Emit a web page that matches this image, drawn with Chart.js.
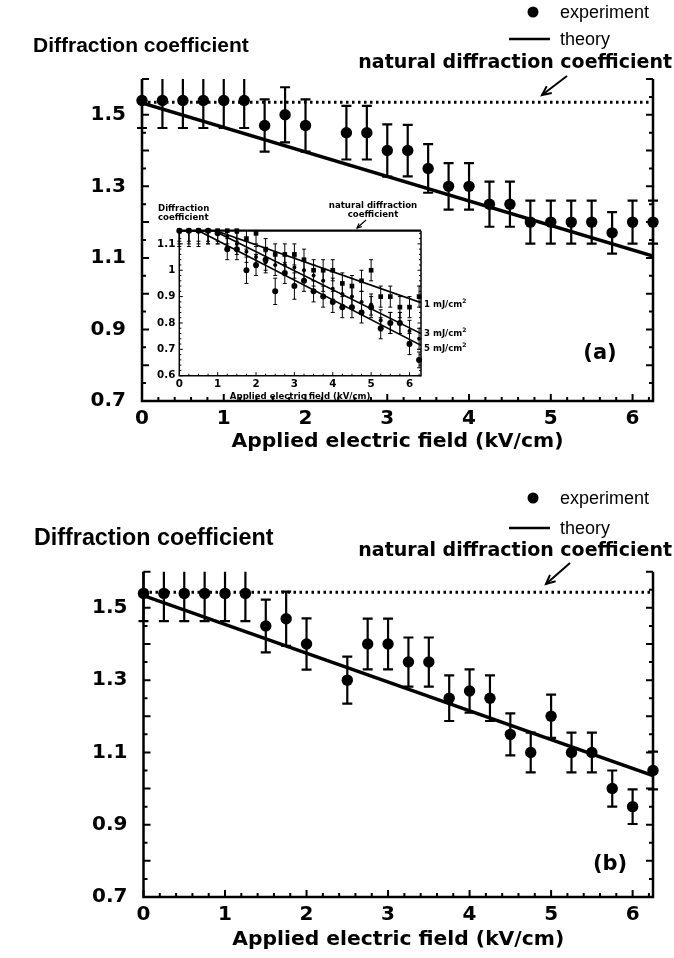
<!DOCTYPE html>
<html>
<head>
<meta charset="utf-8">
<script src="https://cdn.jsdelivr.net/npm/chart.js@4.4.1/dist/chart.umd.min.js"></script>
<style>
  body { margin:0; width:674px; height:958px; background:#fff; position:relative; overflow:hidden;
         font-family:"Liberation Sans", Arial, sans-serif; color:#000; }
  canvas, svg, .t { position:absolute; }
  .t { white-space:nowrap; line-height:1; transform:translateY(-50%); }
  .bd { font-family:"DejaVu Sans", sans-serif; font-weight:bold; }
  .leg { font-size:18px; }
  .ttl { font-weight:bold; }
  .nat { font-size:19px; }
  .tag { font-size:21px; transform:translate(-50%,-50%); }
  .sm  { font-size:8.6px; }
  .smc { font-size:8.6px; transform:translate(-50%,-50%); }
  sup { font-size:6px; vertical-align:4px; line-height:0; }
</style>
</head>
<body>
<canvas id="chartA" width="674" height="479" style="left:0;top:0"></canvas>
<canvas id="inset" width="360" height="210" style="left:130px;top:200px"></canvas>
<canvas id="chartB" width="674" height="479" style="left:0;top:479px"></canvas>

<!-- legend marks and arrows -->
<svg width="674" height="958" style="left:0;top:0">
  <g fill="#000" stroke="#000">
    <circle cx="533" cy="12" r="5.5" stroke="none"/>
    <line x1="509" y1="39" x2="550" y2="39" stroke-width="2.5"/>
    <circle cx="533" cy="498" r="5.5" stroke="none"/>
    <line x1="509" y1="528" x2="550" y2="528" stroke-width="2.5"/>
  </g>
  <g fill="none" stroke="#000" stroke-width="2">
    <line x1="567" y1="76" x2="542" y2="95"/>
    <polyline points="551.8,92.9 542,95 546.7,86.2"/>
    <line x1="570" y1="563" x2="546" y2="584"/>
    <polyline points="555.6,581.2 546,584 550,574.8"/>
    <line x1="366" y1="220" x2="357" y2="228" stroke-width="1.2"/>
    <polyline points="361.8,226.6 357,228 359,223.4" stroke-width="1.2"/>
  </g>
</svg>

<!-- panel (a) text -->
<div class="t leg" style="left:560px;top:12px">experiment</div>
<div class="t leg" style="left:560px;top:39px">theory</div>
<div class="t ttl" style="left:33px;top:44px;font-size:21px">Diffraction coefficient</div>
<div class="t bd nat" style="right:2px;top:61px">natural diffraction coefficient</div>
<div class="t bd tag" style="left:600px;top:352px">(a)</div>

<!-- inset text -->
<div class="t bd sm" style="left:158px;top:208px">Diffraction</div>
<div class="t bd sm" style="left:158px;top:217px">coefficient</div>
<div class="t bd smc" style="left:373px;top:205px">natural diffraction</div>
<div class="t bd smc" style="left:373px;top:214px">coefficient</div>
<div class="t bd sm" style="left:424px;top:304px">1 mJ/cm<sup>2</sup></div>
<div class="t bd sm" style="left:424px;top:333px">3 mJ/cm<sup>2</sup></div>
<div class="t bd sm" style="left:424px;top:348px">5 mJ/cm<sup>2</sup></div>

<!-- panel (b) text -->
<div class="t leg" style="left:560px;top:498px">experiment</div>
<div class="t leg" style="left:560px;top:528px">theory</div>
<div class="t ttl" style="left:34px;top:538px;font-size:23.3px">Diffraction coefficient</div>
<div class="t bd nat" style="right:2px;top:549px">natural diffraction coefficient</div>
<div class="t bd tag" style="left:610px;top:863px">(b)</div>

<script>
Chart.defaults.font.family = '"DejaVu Sans", sans-serif';
Chart.defaults.color = '#000';

// ---------- panel (a) ----------
const fieldA = [0, 0.25, 0.5, 0.75, 1, 1.25, 1.5, 1.75, 2, 2.5, 2.75, 3, 3.25, 3.5, 3.75, 4, 4.25, 4.5, 4.75, 5, 5.25, 5.5, 5.75, 6, 6.25];
const expA   = [1.54, 1.54, 1.54, 1.54, 1.54, 1.54, 1.47, 1.50, 1.47, 1.45, 1.45, 1.40, 1.40, 1.35, 1.30, 1.30, 1.25, 1.25, 1.20, 1.20, 1.20, 1.20, 1.17, 1.20, 1.20];
const errA   = [0.077, 0.077, 0.077, 0.077, 0.077, 0.077, 0.073, 0.077, 0.073, 0.075, 0.075, 0.073, 0.072, 0.068, 0.065, 0.065, 0.063, 0.063, 0.06, 0.06, 0.06, 0.06, 0.058, 0.06, 0.06];
const theoryFieldA = [0, 6.25];
const theoryA      = [1.533, 1.105];
const naturalField = [0, 6.25];
const naturalA     = [1.535, 1.535];

// ---------- panel (b) ----------
const fieldB = [0, 0.25, 0.5, 0.75, 1, 1.25, 1.5, 1.75, 2, 2.5, 2.75, 3, 3.25, 3.5, 3.75, 4, 4.25, 4.5, 4.75, 5, 5.25, 5.5, 5.75, 6, 6.25];
const expB   = [1.54, 1.54, 1.54, 1.54, 1.54, 1.54, 1.45, 1.47, 1.40, 1.30, 1.40, 1.40, 1.35, 1.35, 1.25, 1.27, 1.25, 1.15, 1.10, 1.20, 1.10, 1.10, 1.00, 0.95, 1.05];
const errB   = [0.077, 0.077, 0.077, 0.077, 0.077, 0.077, 0.073, 0.075, 0.071, 0.065, 0.07, 0.07, 0.068, 0.068, 0.063, 0.06, 0.063, 0.058, 0.055, 0.06, 0.055, 0.055, 0.05, 0.048, 0.052];
const theoryFieldB = [0, 6.25];
const theoryB      = [1.534, 1.036];
const naturalB     = [1.543, 1.543];

// ---------- inset of (a): three fluences ----------
const fieldIn = [0, 0.25, 0.5, 0.75, 1, 1.25, 1.5, 1.75, 2, 2.25, 2.5, 2.75, 3, 3.25, 3.5, 3.75, 4, 4.25, 4.5, 4.75, 5, 5.25, 5.5, 5.75, 6, 6.25];
const flu1 = [1.15, 1.15, 1.15, 1.15, 1.15, 1.15, 1.15, 1.12, 1.14, 1.08, 1.06, 1.06, 1.06, 1.04, 1.00, 1.00, 1.00, 0.95, 0.94, 0.96, 1.00, 0.90, 0.90, 0.86, 0.86, 0.90];
const err1 = [0.06, 0.06, 0.06, 0.05, 0.05, 0.05, 0.04, 0.04, 0.04, 0.04, 0.04, 0.04, 0.04, 0.04, 0.04, 0.04, 0.04, 0.04, 0.04, 0.04, 0.04, 0.04, 0.04, 0.04, 0.04, 0.04];
const flu3 = [1.15, 1.15, 1.15, 1.15, 1.15, 1.13, 1.10, 1.07, 1.05, 1.03, 1.02, 1.02, 1.01, 1.00, 0.98, 0.96, 0.93, 0.91, 0.90, 0.88, 0.87, 0.81, 0.80, 0.80, 0.77, 0.74];
const err3 = [0.05, 0.05, 0.05, 0.05, 0.04, 0.04, 0.04, 0.04, 0.04, 0.04, 0.04, 0.04, 0.04, 0.04, 0.04, 0.04, 0.04, 0.04, 0.04, 0.04, 0.04, 0.04, 0.04, 0.04, 0.04, 0.04];
const flu5 = [1.15, 1.15, 1.15, 1.15, 1.14, 1.08, 1.08, 1.00, 1.02, 1.04, 0.92, 0.99, 0.94, 0.96, 0.92, 0.90, 0.88, 0.86, 0.86, 0.84, 0.86, 0.78, 0.80, 0.80, 0.72, 0.66];
const err5 = [0.04, 0.04, 0.04, 0.04, 0.04, 0.04, 0.04, 0.05, 0.04, 0.04, 0.05, 0.04, 0.05, 0.04, 0.04, 0.04, 0.04, 0.04, 0.04, 0.04, 0.04, 0.04, 0.04, 0.04, 0.04, 0.03];
const theoryField1 = [0, 0.95, 6.3], theory1 = [1.15, 1.15, 0.877];
const theoryField3 = [0, 0.9, 6.3],  theory3 = [1.15, 1.15, 0.76];
const theoryField5 = [0, 0.5, 6.3],  theory5 = [1.15, 1.15, 0.715];

const yLabelsMain = [0.7, 0.9, 1.1, 1.3, 1.5];

const pts = (xs, ys) => xs.map((x, i) => ({ x, y: ys[i] }));
const isMajor = (v, step) => Math.abs(v / step - Math.round(v / step)) < 1e-6;

// axes drawn as a frame with inward ticks
const frameTicks = {
  id: 'frameTicks',
  afterDraw(chart, args, o) {
    const { ctx, chartArea: a, scales: { x, y } } = chart;
    ctx.save();
    ctx.strokeStyle = '#000';
    ctx.lineWidth = o.tickWidth;
    ctx.beginPath();
    const ny = Math.round((y.max - y.min) / o.yMinor);
    for (let i = 0; i <= ny; i++) {
      const v = y.min + i * o.yMinor;
      const len = isMajor(v, o.yMajor) ? o.major : o.minor;
      const py = y.getPixelForValue(v);
      ctx.moveTo(a.left, py);  ctx.lineTo(a.left + len, py);
      ctx.moveTo(a.right, py); ctx.lineTo(a.right - len, py);
    }
    const nx = Math.floor((x.max - x.min) / o.xMinor + 1e-6);
    for (let i = 0; i <= nx; i++) {
      const v = x.min + i * o.xMinor;
      const len = isMajor(v, o.xMajor) ? o.major : o.minor;
      const px = x.getPixelForValue(v);
      ctx.moveTo(px, a.bottom); ctx.lineTo(px, a.bottom - len);
    }
    ctx.stroke();
    ctx.lineWidth = o.axisWidth;
    ctx.beginPath();
    ctx.moveTo(a.left, a.top); ctx.lineTo(a.left, a.bottom);
    ctx.lineTo(a.right, a.bottom); ctx.lineTo(a.right, a.top);
    ctx.stroke();
    if (o.box) {
      ctx.lineWidth = o.topWidth;
      ctx.beginPath(); ctx.moveTo(a.left, a.top); ctx.lineTo(a.right, a.top); ctx.stroke();
    }
    ctx.restore();
  }
};

// vertical error bars with caps, from dataset.err
const errorBars = {
  id: 'errorBars',
  afterDatasetsDraw(chart) {
    const { ctx, chartArea: a, scales: { x, y } } = chart;
    ctx.save();
    ctx.beginPath();
    ctx.rect(a.left - 12, a.top, a.right - a.left + 24, a.bottom - a.top);
    ctx.clip();
    ctx.strokeStyle = '#000';
    chart.data.datasets.forEach(ds => {
      if (!ds.err) return;
      ctx.lineWidth = ds.errWidth;
      ctx.beginPath();
      ds.data.forEach((p, i) => {
        const px = x.getPixelForValue(p.x);
        const hi = y.getPixelForValue(p.y + ds.err[i]);
        const lo = y.getPixelForValue(p.y - ds.err[i]);
        ctx.moveTo(px, hi); ctx.lineTo(px, lo);
        ctx.moveTo(px - ds.cap, hi); ctx.lineTo(px + ds.cap, hi);
        ctx.moveTo(px - ds.cap, lo); ctx.lineTo(px + ds.cap, lo);
      });
      ctx.stroke();
    });
    ctx.restore();
  }
};

const boldFont = size => ({ size, weight: 'bold' });

function mainChart(id, o) {
  return new Chart(document.getElementById(id), {
    type: 'scatter',
    data: {
      datasets: [
        { data: pts(o.field, o.exp), err: o.err, errWidth: 2.2, cap: 5,
          pointRadius: 5.7, pointBackgroundColor: '#000', pointBorderWidth: 0, clip: false },
        { data: pts(o.theoryField, o.theory), showLine: true, borderColor: '#000', borderWidth: 3.5, pointRadius: 0 },
        { data: pts(naturalField, o.natural), showLine: true, borderColor: '#000', borderWidth: 3,
          borderDash: [2.5, 3.5], pointRadius: 0 },
      ],
    },
    options: {
      responsive: false, animation: false,
      layout: { padding: { top: o.top, right: 21, left: 0, bottom: 0 } },
      plugins: {
        legend: { display: false }, tooltip: { enabled: false },
        frameTicks: { yMinor: 0.05, yMajor: 0.1, xMinor: 0.2, xMajor: 1, major: 7, minor: 4,
                      tickWidth: 2, axisWidth: 2.5 },
      },
      scales: {
        x: { type: 'linear', min: 0, max: 6.25,
             grid: { display: false, drawTicks: false }, border: { display: false },
             ticks: { stepSize: 1, includeBounds: false, autoSkip: false, maxRotation: 0, padding: 6, font: boldFont(20) },
             title: { display: true, text: 'Applied electric field (kV/cm)', font: boldFont(20.3),
                      padding: { top: 0, bottom: o.titlePad } },
             afterFit: s => { s.height = o.xH; } },
        y: { min: 0.7, max: 1.6,
             grid: { display: false, drawTicks: false }, border: { display: false },
             ticks: { stepSize: 0.1, includeBounds: false, autoSkip: false, padding: 16, font: boldFont(20),
                      callback: v => yLabelsMain.some(l => Math.abs(l - v) < 1e-6) ? v.toFixed(1) : '' },
             afterFit: s => { s.width = o.yW; } },
      },
    },
    plugins: [frameTicks, errorBars],
  });
}

mainChart('chartA', { field: fieldA, exp: expA, err: errA, theoryField: theoryFieldA, theory: theoryA,
                      natural: naturalA, top: 79, xH: 78, yW: 142, titlePad: 24.8 });
mainChart('chartB', { field: fieldB, exp: expB, err: errB, theoryField: theoryFieldB, theory: theoryB,
                      natural: naturalB, top: 92.7, xH: 61, yW: 143.5, titlePad: 5.8 });

// inset
const insetLine = (xs, ys) => ({ data: pts(xs, ys), showLine: true, borderColor: '#000', borderWidth: 1.6, pointRadius: 0 });
new Chart(document.getElementById('inset'), {
  type: 'scatter',
  data: {
    datasets: [
      { data: pts(fieldIn, flu1), err: err1, errWidth: 1, cap: 2, pointStyle: 'rect', pointRadius: 3.3,
        pointBackgroundColor: '#000', pointBorderWidth: 0, clip: false },
      { data: pts(fieldIn, flu3), err: err3, errWidth: 1, cap: 2, pointRadius: 2,
        pointBackgroundColor: '#000', pointBorderWidth: 0, clip: false },
      { data: pts(fieldIn, flu5), err: err5, errWidth: 1, cap: 2, pointRadius: 3,
        pointBackgroundColor: '#000', pointBorderWidth: 0, clip: false },
      insetLine(theoryField1, theory1),
      insetLine(theoryField3, theory3),
      insetLine(theoryField5, theory5),
    ],
  },
  options: {
    responsive: false, animation: false,
    layout: { padding: { top: 30.7, right: 69, left: 0, bottom: 0 } },
    plugins: {
      legend: { display: false }, tooltip: { enabled: false },
      frameTicks: { yMinor: 0.02, yMajor: 0.1, xMinor: 0.25, xMajor: 1, major: 3.5, minor: 2,
                    tickWidth: 1, axisWidth: 1.5, box: true, topWidth: 2.2 },
    },
    scales: {
      x: { type: 'linear', min: 0, max: 6.3,
           grid: { display: false, drawTicks: false }, border: { display: false },
           ticks: { stepSize: 1, includeBounds: false, autoSkip: false, maxRotation: 0, padding: 2, font: boldFont(10.3) },
           title: { display: true, text: 'Applied electric field (kV/cm)', font: boldFont(8.6),
                    padding: { top: 0, bottom: 8.5 } },
           afterFit: s => { s.height = 34.3; } },
      y: { min: 0.6, max: 1.15,
           grid: { display: false, drawTicks: false }, border: { display: false },
           ticks: { stepSize: 0.1, includeBounds: false, autoSkip: false, padding: 4, font: boldFont(10.3),
                    callback: v => String(+v.toFixed(1)) },
           afterFit: s => { s.width = 49.3; } },
    },
  },
  plugins: [frameTicks, errorBars],
});
</script>
</body>
</html>
